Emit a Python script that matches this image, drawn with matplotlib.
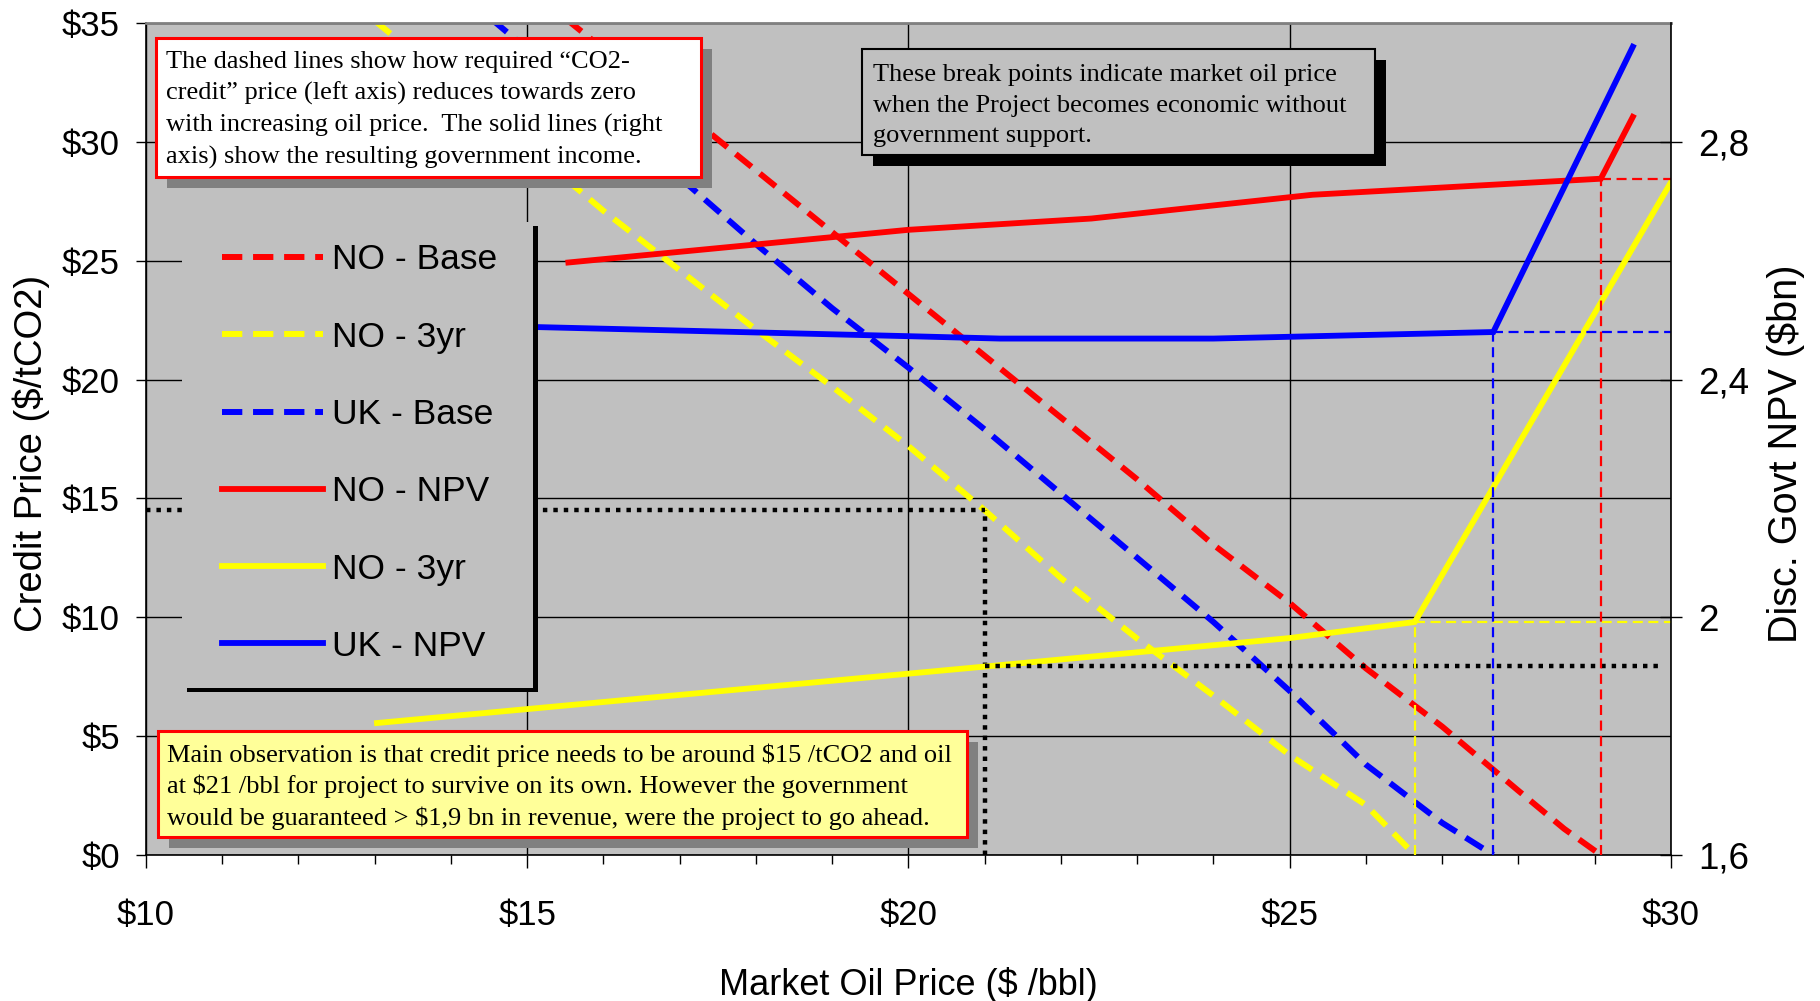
import matplotlib
matplotlib.use('Agg')
import matplotlib.pyplot as plt
from matplotlib.patches import Rectangle
from matplotlib.ticker import MultipleLocator

plt.rcParams['font.family'] = 'Liberation Sans'

# Required CO2-credit price ($/tCO2) against market oil price ($/bbl)
oil_no_base = [15, 16, 17, 18, 19, 20, 21, 22, 23, 24, 25, 26, 27, 28, 28.6, 29.08]
credit_no_base = [36.5, 33.9, 31.4, 28.8, 26.2, 23.6, 21.0, 18.4, 15.8, 13.05, 10.6, 7.85, 5.4, 2.7, 1.1, 0]

oil_no_3yr = [13, 14, 15, 16, 17, 18, 19, 20, 21, 22, 23, 24, 25, 26, 26.64]
credit_no_3yr = [35.1, 32.45, 29.8, 27.1, 24.6, 22.1, 19.7, 17.2, 14.5, 11.65, 9.1, 6.7, 4.2, 2.1, 0]

oil_uk_base = [14, 15, 16, 17, 18, 19, 20, 21, 22, 23, 24, 25, 26, 27, 27.67]
credit_uk_base = [36.6, 33.9, 31.2, 28.5, 25.7, 23.0, 20.5, 17.9, 15.2, 12.5, 9.8, 6.9, 3.8, 1.35, 0]

# Discounted government NPV ($bn); second-last point is the break point
oil_no_npv = [15.54, 20, 22.4, 25.3, 29.08, 29.5]
npv_no = [2.597, 2.652, 2.671, 2.711, 2.738, 2.842]

oil_no_3yr_npv = [13.03, 21, 25, 26.64, 30]
npv_no_3yr = [1.822, 1.917, 1.965, 1.992, 2.732]

oil_uk_npv = [14.6, 20, 21.2, 24, 27.67, 29.5]
npv_uk = [2.49, 2.473, 2.469, 2.469, 2.48, 2.96]

# Break-even markers: credit price, oil price, guaranteed government NPV
credit_target = 14.5
oil_target = 21
npv_floor = 1.918

oil_ticks = [10, 15, 20, 25, 30]
oil_tick_labels = ['$10', '$15', '$20', '$25', '$30']
credit_ticks = [0, 5, 10, 15, 20, 25, 30, 35]
credit_tick_labels = ['$0', '$5', '$10', '$15', '$20', '$25', '$30', '$35']
npv_ticks = [1.6, 2.0, 2.4, 2.8]
npv_tick_labels = ['1,6', '2', '2,4', '2,8']

legend_labels = ['NO - Base', 'NO - 3yr', 'UK - Base', 'NO - NPV', 'NO - 3yr', 'UK - NPV']

note_dashed = ['The dashed lines show how required \u201cCO2-',
               'credit\u201d price (left axis) reduces towards zero',
               'with increasing oil price.  The solid lines (right',
               'axis) show the resulting government income.']
note_break = ['These break points indicate market oil price',
              'when the Project becomes economic without',
              'government support.']
note_main = ['Main observation is that credit price needs to be around $15 /tCO2 and oil',
             'at $21 /bbl for project to survive on its own. However the government',
             'would be guaranteed > $1,9 bn in revenue, were the project to go ahead.']

RED = '#FF0000'
YELLOW = '#FFFF00'
BLUE = '#0000FF'
SILVER = '#C0C0C0'

fig = plt.figure(figsize=(18.2, 10.01), dpi=100)
ax = fig.add_axes([0.0802, 0.1459, 0.8379, 0.8311])
ax2 = ax.twinx()

ax.set_facecolor(SILVER)
ax.set_xlim(10, 30)
ax.set_ylim(0, 35)
ax2.set_ylim(1.6, 3.0)

thick_dash = (0, (3.4, 1.8))
thin_dash = (0, (4.5, 2.5))
dotted = (0, (1, 1.35))

# credit price curves (left axis)
l1, = ax.plot(oil_no_base, credit_no_base, color=RED, lw=4.3, ls=thick_dash)
l2, = ax.plot(oil_no_3yr, credit_no_3yr, color=YELLOW, lw=4.3, ls=thick_dash)
l3, = ax.plot(oil_uk_base, credit_uk_base, color=BLUE, lw=4.3, ls=thick_dash)

# break-even guide at $15 credit / $21 oil
ax.plot([10, oil_target], [credit_target, credit_target], color='black', lw=3.2, ls=dotted)
ax.plot([oil_target, oil_target], [0, credit_target], color='black', lw=3.2, ls=dotted)

# government NPV curves (right axis)
l4, = ax2.plot(oil_no_npv, npv_no, color=RED, lw=4.2, solid_joinstyle='miter')
l5, = ax2.plot(oil_no_3yr_npv, npv_no_3yr, color=YELLOW, lw=4.2, solid_joinstyle='miter')
l6, = ax2.plot(oil_uk_npv, npv_uk, color=BLUE, lw=4.2, solid_joinstyle='miter')

ax2.plot([oil_target, 29.9], [npv_floor, npv_floor], color='black', lw=3.2, ls=dotted)

# thin guides from each break point down to the axis and across to the right
for xs, ys, c in [(oil_no_3yr_npv, npv_no_3yr, YELLOW),
                  (oil_uk_npv, npv_uk, BLUE),
                  (oil_no_npv, npv_no, RED)]:
    bx, by = xs[-2], ys[-2]
    ax2.plot([bx, bx], [1.6, by], color=c, lw=1.6, ls=thin_dash)
    ax2.plot([bx, 30], [by, by], color=c, lw=1.6, ls=thin_dash)

# grid and ticks
ax.set_axisbelow(True)
ax.grid(True, which='major', color='black', lw=1.0)
ax.set_xticks(oil_ticks)
ax.set_xticklabels(oil_tick_labels)
ax.xaxis.set_minor_locator(MultipleLocator(1))
ax.set_yticks(credit_ticks)
ax.set_yticklabels(credit_tick_labels)
ax2.set_yticks(npv_ticks)
ax2.set_yticklabels(npv_tick_labels)

ax.tick_params(axis='x', which='major', direction='out', length=9.4, width=1, pad=22, labelsize=25)
ax.tick_params(axis='x', which='minor', direction='out', length=6.5, width=1)
ax.tick_params(axis='y', direction='out', length=7.2, width=1, pad=11.5, labelsize=25)
ax2.tick_params(axis='y', direction='inout', length=16, width=1, pad=11.4, labelsize=26.5)

ax.set_xlabel('Market Oil Price ($ /bbl)', fontsize=26)
ax.xaxis.set_label_coords(0.5, -0.1346)
ax.set_ylabel('Credit Price ($/tCO2)', fontsize=27.5)
ax.yaxis.set_label_coords(-0.063, 0.483)
ax2.set_ylabel('Disc. Govt NPV ($bn)', fontsize=28.5, rotation=90)
ax2.yaxis.set_label_coords(1.0629, 0.482)

for s in ['left', 'bottom']:
    ax.spines[s].set_color('black')
    ax.spines[s].set_linewidth(1.2)
ax.spines['top'].set_color('#808080')
ax.spines['top'].set_linewidth(2)
ax.spines['right'].set_visible(False)
for s in ['left', 'top', 'bottom']:
    ax2.spines[s].set_visible(False)
ax2.spines['right'].set_color('black')
ax2.spines['right'].set_linewidth(1.2)


def shadow_box(x0, y0, w, h, face, edge, lw, shadow, dx=0.00721, dy=-0.01322, z=6):
    ax2.add_patch(Rectangle((x0 + dx, y0 + dy), w, h, transform=ax2.transAxes,
                            facecolor=shadow, edgecolor='none', zorder=z, clip_on=False))
    ax2.add_patch(Rectangle((x0, y0), w, h, transform=ax2.transAxes,
                            facecolor=face, edgecolor=edge, lw=lw, zorder=z + 0.1, clip_on=False))


def note_lines(lines, x, y, step, z=7):
    for i, line in enumerate(lines):
        ax2.text(x, y - i * step, line, transform=ax2.transAxes, ha='left', va='baseline',
                 family='Liberation Serif', fontsize=19, zorder=z)


# legend panel
shadow_box(0.0236, 0.2007, 0.2302, 0.5601, SILVER, 'none', 0, 'black',
           dx=0.0030, dy=-0.0050, z=4)
ax2.legend([l1, l2, l3, l4, l5, l6], legend_labels, loc='upper left',
           bbox_to_anchor=(0.0498, 0.735), bbox_transform=ax2.transAxes,
           frameon=False, fontsize=25.5, handlelength=2.85, handletextpad=0.27,
           labelspacing=1.25, borderpad=0, borderaxespad=0).set_zorder(5)

shadow_box(0.00656, 0.8149, 0.3574, 0.1671, 'white', RED, 2.2, '#808080')
note_lines(note_dashed, 0.01311, 0.9459, 0.03846)

shadow_box(0.4695, 0.8413, 0.3364, 0.1274, SILVER, 'black', 1.5, 'black')
note_lines(note_break, 0.4767, 0.9303, 0.03666)

shadow_box(0.00787, 0.0216, 0.5305, 0.1274, '#FFFF99', RED, 2.2, '#808080')
note_lines(note_main, 0.01377, 0.1118, 0.03786)

fig.savefig('out.png', dpi=100)
